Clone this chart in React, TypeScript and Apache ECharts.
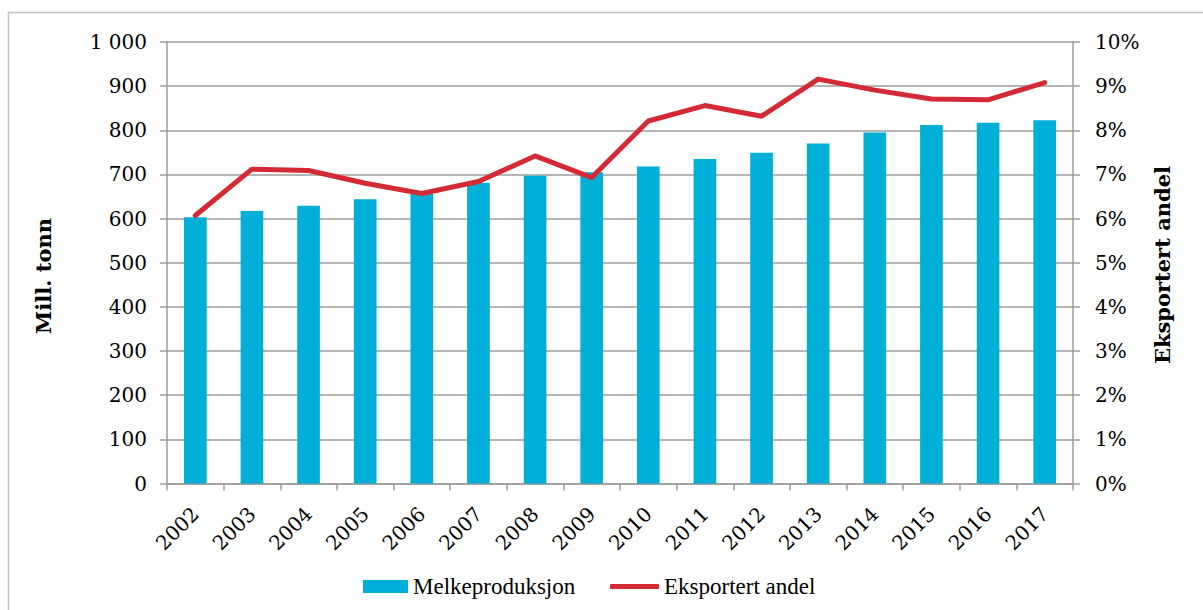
import React, { useEffect, useRef } from "react";
import * as echarts from "echarts";

const years = ["2002", "2003", "2004", "2005", "2006", "2007", "2008", "2009", "2010", "2011", "2012", "2013", "2014", "2015", "2016", "2017"];
const milkProduction = [603, 617, 629, 644, 656, 681, 697, 705, 718, 735, 749, 770, 795, 812, 817, 823];
const exportShare = [6.07, 7.12, 7.09, 6.8, 6.57, 6.84, 7.42, 6.93, 8.21, 8.56, 8.32, 9.16, 8.91, 8.71, 8.69, 9.08];

const barName = "Melkeproduksjon";
const lineName = "Eksportert andel";
const leftTitle = "Mill. tonn";
const rightTitle = "Eksportert andel";

const BAR_COLOR = "#00AFD7";
const LINE_COLOR = "#D42A35";
const GRID_COLOR = "#9c9c9c";
const AXIS_FONT = "DejaVu Serif";

export default function App() {
  const ref = useRef<HTMLDivElement>(null);
  useEffect(() => {
    if (!ref.current) return;
    const chart = echarts.init(ref.current, null, { renderer: "svg" });
    const labelStyle = { color: "#000", fontFamily: AXIS_FONT, fontSize: 20 };
    chart.setOption({
      animation: false,
      backgroundColor: "#fff",
      grid: { left: 167, right: 130, top: 42, bottom: 126.5, containLabel: false },
      legend: [
        {
          data: [barName],
          left: 358,
          top: 570,
          icon: "rect",
          itemWidth: 45,
          itemHeight: 13,
          itemGap: 0,
          textStyle: { color: "#000", fontFamily: "Liberation Serif", fontSize: 23 },
        },
        {
          data: [lineName],
          left: 605,
          top: 570,
          icon: "roundRect",
          itemWidth: 49,
          itemHeight: 5,
          textStyle: { color: "#000", fontFamily: "Liberation Serif", fontSize: 23 },
        },
      ],
      xAxis: {
        type: "category",
        data: years,
        boundaryGap: true,
        axisLine: { show: true, lineStyle: { color: GRID_COLOR, width: 1.5 } },
        axisTick: { show: true, length: 7, alignWithLabel: false, lineStyle: { color: GRID_COLOR, width: 1.5 } },
        axisLabel: { ...labelStyle, rotate: 45, margin: 27, interval: 0 },
        splitLine: { show: false },
      },
      yAxis: [
        {
          type: "value",
          min: 0,
          max: 1000,
          interval: 100,
          position: "left",
          axisLine: { show: true, lineStyle: { color: GRID_COLOR, width: 1.5 } },
          axisTick: { show: true, length: 7, lineStyle: { color: GRID_COLOR, width: 1.5 } },
          axisLabel: {
            ...labelStyle,
            margin: 20,
            formatter: (v: number) => (v >= 1000 ? Math.floor(v / 1000) + " " + String(v % 1000).padStart(3, "0") : String(v)),
          },
          splitLine: { show: true, lineStyle: { color: GRID_COLOR, width: 1.5 } },
        },
        {
          type: "value",
          min: 0,
          max: 10,
          interval: 1,
          position: "right",
          axisLine: { show: true, lineStyle: { color: GRID_COLOR, width: 1.5 } },
          axisTick: { show: true, length: 7, lineStyle: { color: GRID_COLOR, width: 1.5 } },
          axisLabel: { ...labelStyle, margin: 22, formatter: "{value}%" },
          splitLine: { show: false },
        },
      ],
      series: [
        {
          name: barName,
          type: "bar",
          data: milkProduction,
          barCategoryGap: "60%",
          itemStyle: { color: BAR_COLOR },
          yAxisIndex: 0,
        },
        {
          name: lineName,
          type: "line",
          data: exportShare,
          yAxisIndex: 1,
          symbol: "none",
          itemStyle: { color: LINE_COLOR },
          lineStyle: { color: LINE_COLOR, width: 5, cap: "round", join: "round" },
        },
      ],
      graphic: [
        {
          type: "rect",
          shape: { x: 8.5, y: 12.5, width: 1400, height: 800 },
          style: { fill: "none", stroke: "#c4c4c4", lineWidth: 1.5 },
          silent: true,
          z: -10,
        },
        {
          type: "text",
          x: 43,
          y: 276,
          rotation: Math.PI / 2,
          style: {
            text: leftTitle,
            fill: "#000",
            font: "bold 21px 'DejaVu Serif'",
            align: "center",
            verticalAlign: "middle",
          },
        },
        {
          type: "text",
          x: 1162,
          y: 265,
          rotation: Math.PI / 2,
          style: {
            text: rightTitle,
            fill: "#000",
            font: "bold 21px 'DejaVu Serif'",
            align: "center",
            verticalAlign: "middle",
          },
        },
      ],
    });
    return () => chart.dispose();
  }, []);
  return <div ref={ref} style={{ position: "absolute", left: 0, top: 0, width: 1203, height: 610 }} />;
}
